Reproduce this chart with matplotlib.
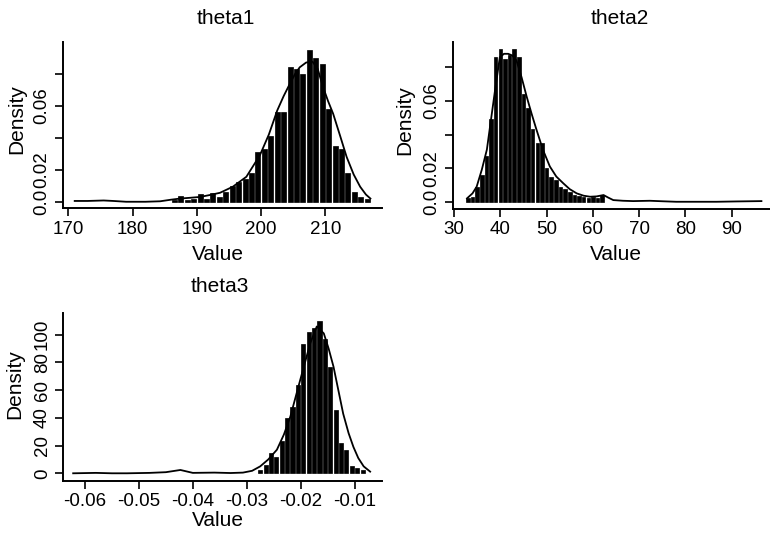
import matplotlib
matplotlib.use("Agg")
import matplotlib.pyplot as plt

plt.rcParams['font.family'] = ['Liberation Sans', 'DejaVu Sans']

titles = ["theta1", "theta2", "theta3"]
xlabel = "Value"
ylabel = "Density"

# theta1 histogram (bin centres, densities) and density curve
t1_bins = [186.5, 187.5, 188.5, 189.5, 190.5, 191.5, 192.5, 193.5, 194.5, 195.5, 196.5, 197.5,
           198.5, 199.5, 200.5, 201.5, 202.5, 203.5, 204.5, 205.5, 206.5, 207.5, 208.5,
           209.5, 210.5, 211.5, 212.5, 213.5, 214.5, 215.5, 216.5]
t1_dens = [0.001, 0.0037, 0.001, 0.002, 0.0048, 0.002, 0.0056, 0.003, 0.006, 0.0098, 0.0125, 0.014,
           0.018, 0.031, 0.033, 0.041, 0.056, 0.056, 0.084, 0.083, 0.080, 0.095, 0.090,
           0.086, 0.058, 0.035, 0.033, 0.018, 0.006, 0.003, 0.002]
t1_kx = [171, 173, 175.5, 177, 179, 182, 184.3, 186, 187.4, 189, 190.5, 192, 193.6, 195.6, 197.7,
         199.8, 201.2, 202.5, 203.5, 204.5, 205.3, 206, 207, 208, 208.8, 209.6, 210.4, 211.2,
         212.3, 213.3, 214.4, 215.4, 216.3, 217]
t1_ky = [0.0005, 0.0005, 0.0008, 0.0005, 0.0, 0.0, 0.0003, 0.0013, 0.002, 0.0025, 0.003, 0.0042,
         0.0056, 0.0094, 0.0156, 0.029, 0.042, 0.057, 0.066, 0.074, 0.080, 0.084, 0.087,
         0.0875, 0.083, 0.072, 0.063, 0.055, 0.041, 0.028, 0.017, 0.0094, 0.0045, 0.002]

# theta2
t2_bins = [33, 34, 35, 36, 37, 38, 39, 40, 41, 42, 43, 44, 45, 46, 47, 48, 49, 50, 51, 52, 53,
           54, 55, 56, 57, 58, 59, 60, 61, 62]
t2_dens = [0.002, 0.003, 0.009, 0.016, 0.027, 0.049, 0.086, 0.091, 0.085, 0.087, 0.091, 0.086,
           0.064, 0.056, 0.043, 0.035, 0.035, 0.020, 0.015, 0.013, 0.009, 0.0073, 0.006, 0.004,
           0.0036, 0.003, 0.002, 0.003, 0.002, 0.004]
t2_kx = [32.8, 34, 34.9, 36, 37.1, 38, 38.9, 39.9, 40.8, 41.7, 42.6, 43.5, 44.6, 45.7, 46.8,
         47.8, 49.2, 50.7, 52.1, 53.6, 55, 56.5, 58, 59.4, 60.8, 62.3, 63.3, 64.4, 66.5, 68.7,
         72.3, 75, 78, 82, 86.7, 91, 96.4]
t2_ky = [0.002, 0.005, 0.009, 0.019, 0.031, 0.049, 0.067, 0.086, 0.088, 0.088, 0.087, 0.084,
         0.074, 0.0625, 0.052, 0.043, 0.031, 0.021, 0.015, 0.011, 0.0075, 0.005, 0.0036, 0.003,
         0.0032, 0.004, 0.0025, 0.001, 0.0006, 0.0004, 0.0006, 0.0003, 0.0, 0.0, 0.0, 0.0002,
         0.0004]

# theta3
t3_bins = [-0.0275, -0.0265, -0.0255, -0.0245, -0.0235, -0.0225, -0.0215, -0.0205, -0.0195,
           -0.0185, -0.0175, -0.0165, -0.0155, -0.0145, -0.0135, -0.0125, -0.0115, -0.0105,
           -0.0095, -0.0085]
t3_dens = [2.4, 6, 14.5, 12, 23, 40, 48, 64, 93, 102, 105, 110, 97, 77, 46, 22, 17, 5, 3.6, 2.4]
t3_kx = [-0.0622, -0.058, -0.055, -0.0522, -0.048, -0.045, -0.0423, -0.040, -0.036, -0.033,
         -0.0307, -0.029, -0.0275, -0.026, -0.0244, -0.0231, -0.0219, -0.0201, -0.0182, -0.017,
         -0.0157, -0.0148, -0.0139, -0.013, -0.0121, -0.0111, -0.0102, -0.0093, -0.0083, -0.0071]
t3_ky = [0.0, 0.3, 0.0, 0.0, 0.3, 0.8, 2.4, 0.3, 0.5, 0.2, 0.5, 1.8, 5, 10, 17, 28, 41, 67, 94,
         106, 101, 90, 77, 60, 43, 29, 19, 11, 5, 1.2]

W, H = 770, 536
fig = plt.figure(figsize=(W / 100, H / 100), dpi=100)


def pax(l, r, t, b):
    return fig.add_axes([l / W, 1 - b / H, (r - l) / W, (b - t) / H])


def ftext(x, y, s, **kw):
    fig.text(x / W, 1 - y / H, s, **kw)


panels = [
    (pax(63, 382, 41.7, 208), t1_bins, t1_dens, 1.0, t1_kx, t1_ky,
     (169.18, 218.8), (-0.0039, 0.1), [170, 180, 190, 200, 210],
     [0.0, 0.02, 0.04, 0.06, 0.08], ["0.0", "0.02", "", "0.06", ""],
     (226, 24), (218, 254), (17, 119)),
    (pax(452.7, 783, 41.7, 209), t2_bins, t2_dens, 1.0, t2_kx, t2_ky,
     (29.72, 101.06), (-0.0043, 0.0952), [30, 40, 50, 60, 70, 80, 90],
     [0.0, 0.02, 0.04, 0.06, 0.08], ["0.0", "0.02", "", "0.06", ""],
     (620, 24), (616, 254), (405, 120)),
    (pax(63.3, 382, 313.3, 481), t3_bins, t3_dens, 0.001, t3_kx, t3_ky,
     (-0.06403, -0.0049), (-5.56, 115.5), [-0.06, -0.05, -0.04, -0.03, -0.02, -0.01],
     [0, 20, 40, 60, 80, 100], ["0", "20", "40", "60", "80", "100"],
     (220, 292), (218, 521), (15, 384)),
]

for (ax, bx, by, bw, kx, ky, xl, yl, xt, yt, ytl, tpos, xpos, ypos), title in zip(panels, titles):
    ax.bar(bx, by, width=bw * 0.76, color='black', edgecolor='black', linewidth=0.5)
    ax.plot(kx, ky, color='black', lw=1.3)
    ax.set_xlim(*xl)
    ax.set_ylim(*yl)
    ax.set_xticks(xt)
    ax.set_xticklabels([("%g" % v) for v in xt])
    ax.set_yticks(yt)
    ax.set_yticklabels(ytl, rotation=90, va='center')
    for s in ('top', 'right'):
        ax.spines[s].set_visible(False)
    for s in ('left', 'bottom'):
        ax.spines[s].set_linewidth(1.4)
    ax.tick_params(direction='out', length=6, width=1.2, labelsize=13.5, pad=3)
    ftext(tpos[0], tpos[1], title, fontsize=15, ha='center', va='baseline')
    ftext(xpos[0], xpos[1], xlabel, fontsize=15, ha='center', va='center')
    ftext(ypos[0], ypos[1], ylabel, fontsize=15, ha='center', va='center', rotation=90)

fig.savefig("out.png", dpi=100)
